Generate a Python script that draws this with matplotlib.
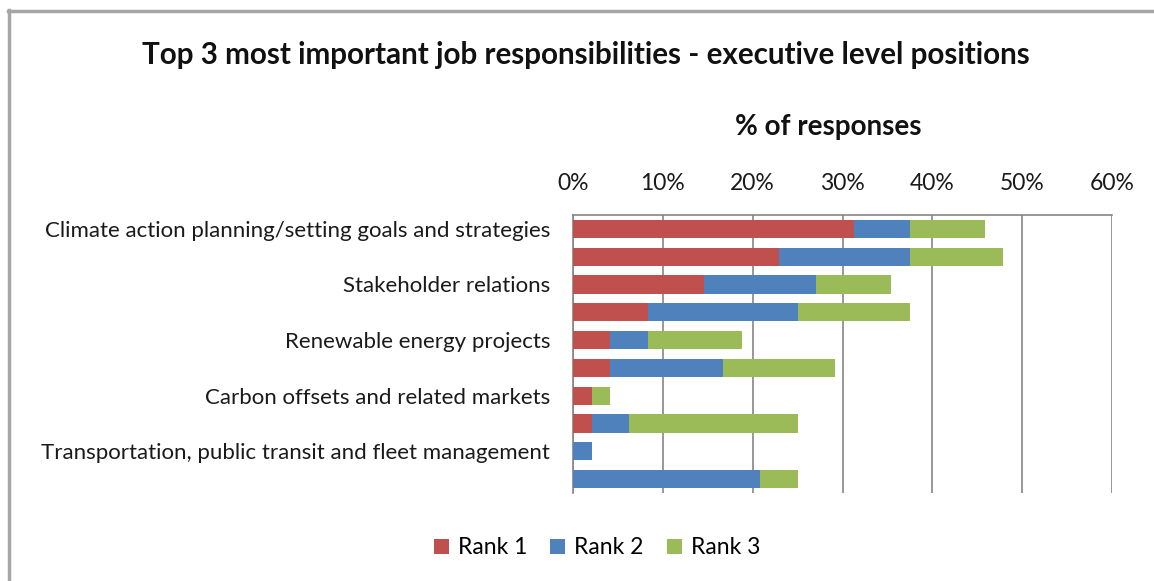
import matplotlib
matplotlib.use("Agg")
import matplotlib.pyplot as plt
from matplotlib.lines import Line2D
import numpy as np

plt.rcParams['font.family'] = ['Lato', 'DejaVu Sans']

# Responsibility categories (every other row carries a label)
categories = [
    "Climate action planning/setting goals and strategies",
    "",
    "Stakeholder relations",
    "",
    "Renewable energy projects",
    "",
    "Carbon offsets and related markets",
    "",
    "Transportation, public transit and fleet management",
    "",
]

# Share of responses (%) for each rank
rank1 = [31.25, 22.92, 14.58, 8.33, 4.17, 4.17, 2.08, 2.08, 0.0, 0.0]
rank2 = [6.25, 14.58, 12.50, 16.67, 4.17, 12.50, 0.0, 4.17, 2.08, 20.83]
rank3 = [8.33, 10.42, 8.33, 12.50, 10.42, 12.50, 2.08, 18.75, 0.0, 4.17]

series_names = ["Rank 1", "Rank 2", "Rank 3"]
series_colors = ["#C0504D", "#4F81BD", "#9BBB59"]

x_ticks = [0, 10, 20, 30, 40, 50, 60]
x_tick_labels = ["0%", "10%", "20%", "30%", "40%", "50%", "60%"]

W, H = 1154, 581
fig = plt.figure(figsize=(W / 100, H / 100), dpi=100)
fig.patch.set_facecolor("white")

ax = fig.add_axes([573 / W, 1 - 493 / H, (1112 - 573) / W, (493 - 215) / H])

y = np.arange(len(categories))
left = np.zeros(len(categories))
for vals, name, col in zip([rank1, rank2, rank3], series_names, series_colors):
    vals = np.array(vals)
    ax.barh(y, vals, left=left, height=0.66, color=col, label=name, zorder=3)
    left += vals

ax.set_xlim(0, 60)
ax.set_ylim(len(categories) - 0.5, -0.5)
ax.set_yticks(y)
ax.set_yticklabels(categories, fontsize=16, color="#1a1a1a")
ax.set_xticks(x_ticks)
ax.set_xticklabels(x_tick_labels, fontsize=16.5, color="#1a1a1a")
ax.xaxis.tick_top()
ax.tick_params(axis="x", length=0, pad=15)
ax.tick_params(axis="y", length=0, pad=16.5)
ax.xaxis.grid(True, color="#868686", linewidth=1.2, zorder=0)
for s in ["bottom", "right"]:
    ax.spines[s].set_visible(False)
for s in ["top", "left"]:
    ax.spines[s].set_color("#868686")
    ax.spines[s].set_linewidth(1.2)

fig.text(586 / W, 1 - 55 / H,
         "Top 3 most important job responsibilities - executive level positions",
         ha="center", va="center", fontsize=21.3, fontweight="bold", color="#111111")
fig.text(828 / W, 1 - 127 / H, "% of responses", ha="center", va="center",
         fontsize=20, fontweight="bold", color="#111111")

handles, labels = ax.get_legend_handles_labels()
fig.legend(handles, labels, loc="center", bbox_to_anchor=(597 / W, 1 - 548 / H),
           ncol=3, frameon=False, fontsize=16.5, handlelength=0.65, handleheight=0.65,
           handletextpad=0.4, columnspacing=1.0)

# outer frame of the chart area
fig.add_artist(Line2D([8 / W, 1], [1 - 10.5 / H, 1 - 10.5 / H], color="#A6A6A6",
                      linewidth=2.5, transform=fig.transFigure))
fig.add_artist(Line2D([8.5 / W, 8.5 / W], [0, 1 - 9.5 / H], color="#A6A6A6",
                      linewidth=2.5, transform=fig.transFigure))

fig.savefig("out.png", dpi=100)
